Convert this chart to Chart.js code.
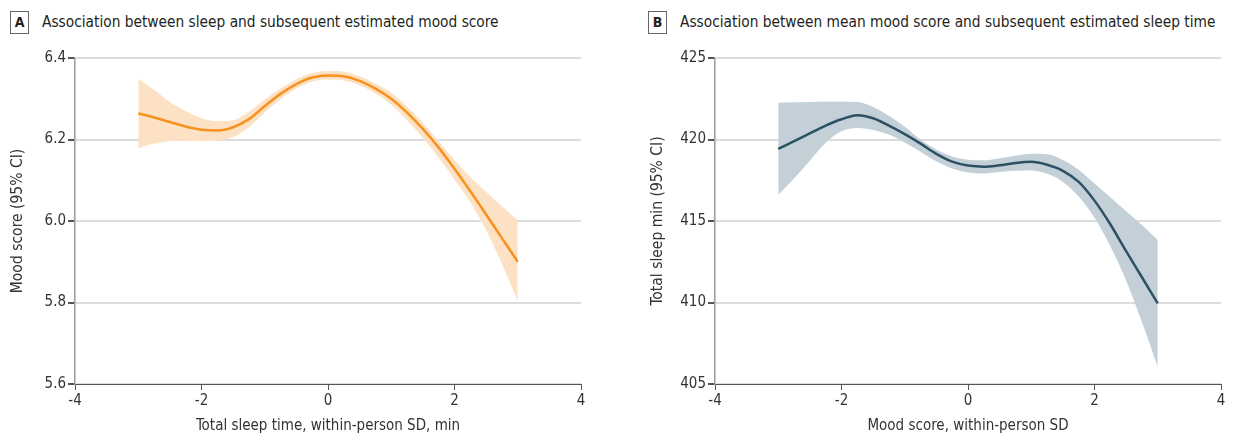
<!DOCTYPE html>
<html>
<head>
<meta charset="utf-8">
<script src="https://cdn.jsdelivr.net/npm/chart.js@4"></script>
<style>
  body { margin: 0; background: #fff; width: 1233px; height: 436px; position: relative; overflow: hidden;
         font-family: 'DejaVu Sans Condensed', sans-serif; color: #231f20; }
  .tag { position: absolute; top: 11px; width: 17px; height: 21px; border: 1px solid #666; font-size: 14px;
         font-weight: bold; text-align: center; line-height: 21px; }
  .head { position: absolute; top: 12px; font-size: 15.3px; line-height: 21px; white-space: nowrap; }
  canvas { position: absolute; top: 40px; }
</style>
</head>
<body>
<div class="tag" style="left:10px">A</div>
<div class="head" style="left:42px">Association between sleep and subsequent estimated mood score</div>
<div class="tag" style="left:648px">B</div>
<div class="head" style="left:680px">Association between mean mood score and subsequent estimated sleep time</div>
<canvas id="chartA" width="616" height="396" style="left:0px"></canvas>
<canvas id="chartB" width="617" height="396" style="left:616px"></canvas>
<script>
"use strict"

const xValues = [-3, -2.75, -2.5, -2.25, -2, -1.75, -1.5, -1.25, -1, -0.75, -0.5, -0.25, 0,
    0.25, 0.5, 0.75, 1, 1.25, 1.5, 1.75, 2, 2.25, 2.5, 2.75, 3]
const xTicks = [-4, -2, 0, 2, 4]

// panel A: mood score after sleep
const moodEstimate = [6.264, 6.254, 6.243, 6.232, 6.224, 6.222, 6.230, 6.250, 6.282, 6.312, 6.336, 6.352, 6.357,
    6.355, 6.344, 6.325, 6.300, 6.266, 6.226, 6.180, 6.128, 6.073, 6.016, 5.958, 5.900]
const moodLower = [6.178, 6.190, 6.196, 6.197, 6.196, 6.197, 6.206, 6.230, 6.266, 6.299, 6.325, 6.342, 6.347,
    6.345, 6.333, 6.313, 6.285, 6.247, 6.204, 6.155, 6.102, 6.046, 5.978, 5.895, 5.802]
const moodUpper = [6.350, 6.322, 6.292, 6.270, 6.252, 6.245, 6.247, 6.268, 6.298, 6.325, 6.348, 6.363, 6.368,
    6.366, 6.355, 6.337, 6.315, 6.281, 6.241, 6.196, 6.150, 6.108, 6.071, 6.036, 6.002]
const moodTicks = [5.6, 5.8, 6.0, 6.2, 6.4]

// panel B: sleep minutes after mood
const sleepEstimate = [419.42, 419.9, 420.38, 420.85, 421.24, 421.49, 421.3, 420.85, 420.33, 419.75, 419.12, 418.64, 418.4,
    418.33, 418.42, 418.56, 418.63, 418.45, 418.08, 417.4, 416.25, 414.8, 413.15, 411.55, 409.95]
const sleepLower = [416.6, 417.6, 418.7, 419.8, 420.5, 420.7, 420.58, 420.3, 419.82, 419.25, 418.66, 418.22, 417.98,
    417.92, 418.0, 418.08, 418.1, 417.9, 417.4, 416.5, 415.2, 413.45, 411.35, 408.8, 406.06]
const sleepUpper = [422.26, 422.28, 422.3, 422.32, 422.32, 422.3, 422.0, 421.45, 420.78, 420.0, 419.38, 418.95, 418.76,
    418.72, 418.85, 419.0, 419.12, 419.1, 418.75, 418.15, 417.3, 416.45, 415.6, 414.75, 413.83]
const sleepTicks = [405, 410, 415, 420, 425]

const fontFamily = "'DejaVu Sans Condensed', sans-serif"

function toPoints(values) {
    let points = []
    for (let i = 0; i < xValues.length; i++) {
        points.push({ x: xValues[i], y: values[i] })
    }
    return points
}

function drawPanel(id, est, lower, upper, yTicks, lineColor, bandColor, xTitle, yTitle, leftPad, rightPad, decimals) {
    let ctx = document.getElementById(id).getContext('2d')

    return new Chart(ctx, {
        type: 'line',
        data: {
            datasets: [{
                data: toPoints(upper),
                borderWidth: 0,
                pointRadius: 0,
                backgroundColor: bandColor,
                fill: '+1',
                order: 2
            }, {
                data: toPoints(lower),
                borderWidth: 0,
                pointRadius: 0,
                fill: false,
                order: 3
            }, {
                data: toPoints(est),
                borderColor: lineColor,
                borderWidth: 2.5,
                pointRadius: 0,
                fill: false,
                order: 1
            }]
        },
        options: {
            responsive: false,
            animation: false,
            layout: { padding: { left: leftPad, right: rightPad, top: 18, bottom: 0 } },
            plugins: { legend: { display: false }, tooltip: { enabled: false } },
            elements: { line: { cubicInterpolationMode: 'monotone' } },
            scales: {
                x: {
                    type: 'linear',
                    min: xTicks[0],
                    max: xTicks[xTicks.length - 1],
                    afterBuildTicks: (axis) => { axis.ticks = xTicks.map(v => ({ value: v })) },
                    grid: { drawOnChartArea: false, drawTicks: true, tickLength: 6, tickColor: '#555' },
                    border: { color: '#555', width: 1 },
                    ticks: { color: '#333', font: { family: fontFamily, size: 15 }, padding: 2, maxRotation: 0 },
                    title: { display: true, text: xTitle, color: '#333', font: { family: fontFamily, size: 15 },
                        padding: { top: 0, bottom: 1 } },
                    afterFit: (axis) => { axis.height = 52 }
                },
                y: {
                    min: yTicks[0],
                    max: yTicks[yTicks.length - 1],
                    afterBuildTicks: (axis) => { axis.ticks = yTicks.map(v => ({ value: v })) },
                    grid: { color: '#dcdcdc', lineWidth: 2, tickLength: 7, tickColor: '#555' },
                    border: { color: '#9a9a9a', width: 1.5 },
                    ticks: { color: '#333', font: { family: fontFamily, size: 15 }, padding: 2,
                        callback: (v) => Number(v).toFixed(decimals) },
                    title: { display: true, text: yTitle, color: '#333', font: { family: fontFamily, size: 15.5 },
                        padding: { top: 9, bottom: 0 } },
                    afterFit: (axis) => { axis.width = 75 }
                }
            }
        }
    })
}

drawPanel('chartA', moodEstimate, moodLower, moodUpper, moodTicks, '#f7921e', 'rgba(253, 225, 196, 1)',
    'Total sleep time, within-person SD, min', 'Mood score (95% CI)', 0, 35, 1)
drawPanel('chartB', sleepEstimate, sleepLower, sleepUpper, sleepTicks, '#2b5163', 'rgba(196, 208, 215, 1)',
    'Mood score, within-person SD', 'Total sleep min (95% CI)', 24, 12, 0)
</script>
</body>
</html>
